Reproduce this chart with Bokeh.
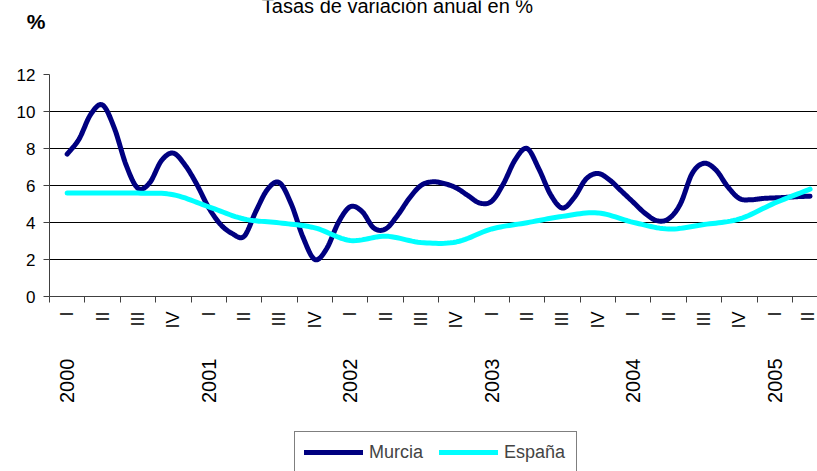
import numpy as np
from bokeh.plotting import figure
from bokeh.layouts import column
from bokeh.models import (FixedTicker, Legend, LegendItem, Range1d, LinearAxis)
from bokeh.core.properties import value
from bokeh.embed import file_html
from bokeh.resources import INLINE

# ---- data (monthly Murcia, quarterly España) ----
murcia = [7.7, 8.5, 9.85, 10.35, 9.1, 7.1, 5.85, 6.15, 7.35, 7.75, 7.1, 6.05,
          4.8, 3.9, 3.4, 3.25, 4.6, 5.8, 6.15, 5.0, 3.2, 2.0, 2.58, 4.0,
          4.85, 4.6, 3.7, 3.65, 4.37, 5.3, 6.0, 6.2, 6.1, 5.87, 5.45, 5.05,
          5.15, 6.1, 7.4, 8.0, 6.9, 5.5, 4.78, 5.35, 6.35, 6.65, 6.3, 5.7,
          5.1, 4.5, 4.1, 4.2, 5.0, 6.65, 7.2, 6.85, 5.95, 5.3, 5.23, 5.3,
          5.33, 5.36, 5.4, 5.42]
espana = [5.59, 5.59, 5.59, 5.5, 4.85, 4.19, 3.98, 3.71, 3.03, 3.26, 2.92,
          2.95, 3.65, 3.99, 4.33, 4.52, 4.01, 3.65, 3.89, 4.19, 5.05, 5.8]
quarter_labels = ["I", "II", "III", "IV"] * 5 + ["I", "II"]
year_labels = ["2000", "2001", "2002", "2003", "2004", "2005"]
y_ticks = [0, 2, 4, 6, 8, 10, 12]
title_text = "Tasas de variación anual en %"
unit_text = "%"

murcia_x = [0.5 + i / 3 for i in range(len(murcia))]
espana_x = [0.5 + i for i in range(len(espana))]
quarter_pos = [i + 0.5 for i in range(len(quarter_labels))]
boundary_pos = list(range(0, len(quarter_labels)))
year_pos = [4 * i + 0.5 for i in range(len(year_labels))]


def smooth(xs, ys, n=12):
    xs = np.asarray(xs, float)
    ys = np.asarray(ys, float)
    px = np.concatenate([[xs[0]], xs, [xs[-1]]])
    py = np.concatenate([[ys[0]], ys, [ys[-1]]])
    t = np.linspace(0, 1, n, endpoint=False)
    ox, oy = [], []
    for i in range(len(xs) - 1):
        p0x, p1x, p2x, p3x = px[i], px[i + 1], px[i + 2], px[i + 3]
        p0y, p1y, p2y, p3y = py[i], py[i + 1], py[i + 2], py[i + 3]
        c1x, c1y = p1x + (p2x - p0x) / 6, p1y + (p2y - p0y) / 6
        c2x, c2y = p2x - (p3x - p1x) / 6, p2y - (p3y - p1y) / 6
        b0 = (1 - t) ** 3
        b1 = 3 * (1 - t) ** 2 * t
        b2 = 3 * (1 - t) * t ** 2
        b3 = t ** 3
        ox.extend(b0 * p1x + b1 * c1x + b2 * c2x + b3 * p2x)
        oy.extend(b0 * p1y + b1 * c1y + b2 * c2y + b3 * p2y)
    ox.append(xs[-1])
    oy.append(ys[-1])
    return ox, oy


FONT = "Liberation Sans"
MURCIA_COLOR = "#000080"
ESPANA_COLOR = "#00FFFF"
AXIS_COLOR = "#404040"
W = 817


def plain(fig):
    fig.outline_line_color = None
    fig.background_fill_color = "white"
    fig.border_fill_color = "white"
    return fig


# ---------- top strip: title and unit ----------
ft = plain(figure(width=W, height=40, x_range=Range1d(49, W),
                  y_range=Range1d(40, 0), x_axis_type=None,
                  output_backend="svg", toolbar_location=None,
                  min_border=0, min_border_left=49, min_border_right=0))
ft.xgrid.visible = False
ft.ygrid.visible = False
ft.text(x=[397], y=[5], text=[title_text], text_align="center",
        text_baseline="alphabetic", text_font=value(FONT),
        text_font_size="20px", text_color="black")
ft.yaxis.ticker = FixedTicker(ticks=[21])
ft.yaxis.major_label_overrides = {21: unit_text}
ft.yaxis.major_label_text_font = FONT
ft.yaxis.major_label_text_font_size = "21px"
ft.yaxis.major_label_text_font_style = "bold"
ft.yaxis.major_label_text_color = "black"
ft.yaxis.major_label_standoff = 4
ft.yaxis.major_tick_out = 0
ft.yaxis.major_tick_in = 0
ft.yaxis.major_tick_line_color = None
ft.yaxis.minor_tick_line_color = None
ft.yaxis.axis_line_color = None

# ---------- main chart ----------
xr = Range1d(0, 21.71)
p = plain(figure(width=W, height=365, x_range=xr, y_range=Range1d(0, 12),
                 output_backend="svg", toolbar_location=None,
                 min_border_left=49, min_border_right=0, min_border_top=34,
                 min_border_bottom=108))
p.xgrid.grid_line_color = None
p.ygrid.grid_line_color = "#000000"
p.ygrid.grid_line_width = 1
p.ygrid.ticker = FixedTicker(ticks=y_ticks)

p.yaxis.ticker = FixedTicker(ticks=y_ticks)
p.yaxis.major_label_text_font = FONT
p.yaxis.major_label_text_font_size = "17px"
p.yaxis.major_label_text_color = "black"
p.yaxis.major_label_standoff = 8
p.yaxis.major_tick_out = 6
p.yaxis.major_tick_in = 0
p.yaxis.minor_tick_line_color = None
p.yaxis.axis_line_color = AXIS_COLOR
p.yaxis.major_tick_line_color = AXIS_COLOR

# quarter axis: labels at quarter centres, tick marks at boundaries
p.xaxis.ticker = FixedTicker(ticks=quarter_pos, minor_ticks=boundary_pos)
p.xaxis.major_label_overrides = {q: lab for q, lab in zip(quarter_pos, quarter_labels)}
p.xaxis.major_label_orientation = np.pi / 2
p.xaxis.major_label_text_font = FONT
p.xaxis.major_label_text_font_size = "18px"
p.xaxis.major_label_text_color = "black"
p.xaxis.major_label_standoff = 9
p.xaxis.major_tick_out = 0
p.xaxis.major_tick_in = 0
p.xaxis.major_tick_line_color = None
p.xaxis.minor_tick_out = 6
p.xaxis.minor_tick_in = 0
p.xaxis.minor_tick_line_color = AXIS_COLOR
p.xaxis.axis_line_color = AXIS_COLOR

# year axis
yax = LinearAxis(ticker=FixedTicker(ticks=year_pos))
yax.major_label_overrides = {q: lab for q, lab in zip(year_pos, year_labels)}
yax.major_label_orientation = np.pi / 2
yax.major_label_text_font = FONT
yax.major_label_text_font_size = "20px"
yax.major_label_text_color = "black"
yax.major_label_standoff = 27
yax.major_tick_out = 0
yax.major_tick_in = 0
yax.major_tick_line_color = None
yax.minor_tick_line_color = None
yax.axis_line_color = None
p.add_layout(yax, "below")

mx, my = smooth(murcia_x, murcia)
ex, ey = smooth(espana_x, espana)
r1 = p.line(mx, my, line_color=MURCIA_COLOR, line_width=5,
            line_join="round", line_cap="round")
r2 = p.line(ex, ey, line_color=ESPANA_COLOR, line_width=5,
            line_join="round", line_cap="round")

# ---------- bottom strip: legend ----------
fb = plain(figure(width=W, height=66, x_range=xr, y_range=Range1d(471, 405),
                  x_axis_type=None, y_axis_type=None, output_backend="svg",
                  toolbar_location=None, min_border=0, min_border_left=49,
                  min_border_right=0))
fb.xgrid.visible = False
fb.ygrid.visible = False
nan = float("nan")
lm = fb.line(x=[nan], y=[nan], line_color=MURCIA_COLOR, line_width=5,
             line_cap="round")
le = fb.line(x=[nan], y=[nan], line_color=ESPANA_COLOR, line_width=5,
             line_cap="round")
legend = Legend(items=[LegendItem(label="Murcia", renderers=[lm]),
                       LegendItem(label="España", renderers=[le])],
                orientation="horizontal", location=(245, -2))
legend.border_line_color = "black"
legend.border_line_width = 1
legend.background_fill_color = "white"
legend.background_fill_alpha = 1
legend.label_text_font = FONT
legend.label_text_font_size = "18px"
legend.glyph_width = 59
legend.glyph_height = 22
legend.label_standoff = 6
legend.spacing = 7
legend.padding = 9
legend.margin = 0
legend.label_width = 63
fb.add_layout(legend)

layout = column(ft, p, fb, spacing=0)
open("out.html", "w").write(file_html(layout, INLINE))
